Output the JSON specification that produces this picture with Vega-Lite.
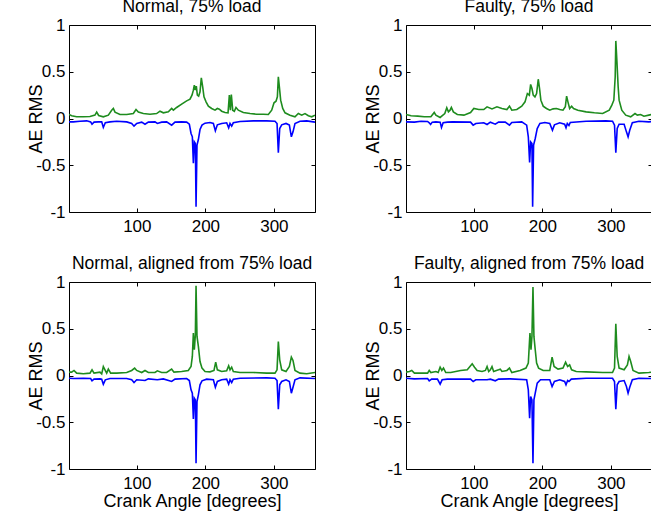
{
"$schema":"https://vega.github.io/schema/vega-lite/v6.json",
"background":"white",
"padding":{"left":27,"top":-3,"right":0,"bottom":5},
"datasets":{
"TLg":[{"a":1,"v":0.043},{"a":4.9,"v":0.029},{"a":12.2,"v":0.018},{"a":21.9,"v":0.018},{"a":31.6,"v":0.021},{"a":38.9,"v":0.036},{"a":41.4,"v":0.068},{"a":44.3,"v":0.032},{"a":51.1,"v":0.018},{"a":58.4,"v":0.036},{"a":63.3,"v":0.089},{"a":65.7,"v":0.107},{"a":68.1,"v":0.068},{"a":75.4,"v":0.043},{"a":85.2,"v":0.043},{"a":94.9,"v":0.053},{"a":98.8,"v":0.096},{"a":102.2,"v":0.068},{"a":109.5,"v":0.053},{"a":119.2,"v":0.046},{"a":128.9,"v":0.053},{"a":133.8,"v":0.078},{"a":138.7,"v":0.061},{"a":146,"v":0.071},{"a":150.8,"v":0.107},{"a":153.3,"v":0.089},{"a":158.1,"v":0.118},{"a":165.4,"v":0.153},{"a":172.7,"v":0.189},{"a":177.6,"v":0.207},{"a":180.5,"v":0.25},{"a":182.5,"v":0.303},{"a":183.9,"v":0.357},{"a":185.4,"v":0.303},{"a":186.8,"v":0.346},{"a":188.3,"v":0.25},{"a":190.2,"v":0.239},{"a":192.2,"v":0.285},{"a":194.1,"v":0.435},{"a":196.1,"v":0.339},{"a":198,"v":0.232},{"a":201,"v":0.178},{"a":204.4,"v":0.132},{"a":209.2,"v":0.107},{"a":214.1,"v":0.089},{"a":217.5,"v":0.107},{"a":220.4,"v":0.1},{"a":223.8,"v":0.078},{"a":228.7,"v":0.064},{"a":233.1,"v":0.061},{"a":235,"v":0.25},{"a":236.5,"v":0.089},{"a":237.9,"v":0.257},{"a":239.9,"v":0.089},{"a":242.3,"v":0.078},{"a":244.7,"v":0.118},{"a":248.1,"v":0.089},{"a":255.4,"v":0.064},{"a":265.2,"v":0.053},{"a":274.9,"v":0.046},{"a":284.6,"v":0.046},{"a":291.9,"v":0.043},{"a":296.8,"v":0.089},{"a":300.2,"v":0.168},{"a":303.1,"v":0.185},{"a":305.1,"v":0.232},{"a":306.5,"v":0.446},{"a":308,"v":0.339},{"a":309.9,"v":0.196},{"a":312.9,"v":0.107},{"a":316.3,"v":0.061},{"a":323.5,"v":0.036},{"a":330.8,"v":0.018},{"a":335.7,"v":0.053},{"a":340.6,"v":0.036},{"a":345.4,"v":0.053},{"a":350.3,"v":0.029},{"a":355.2,"v":0.018},{"a":360,"v":0.036}],
"TLb":[{"a":1,"v":-0.036},{"a":7.3,"v":-0.036},{"a":17.1,"v":-0.029},{"a":26.8,"v":-0.025},{"a":32.6,"v":-0.036},{"a":34.6,"v":-0.061},{"a":37.5,"v":-0.039},{"a":43.8,"v":-0.036},{"a":48.7,"v":-0.036},{"a":51.1,"v":-0.096},{"a":54,"v":-0.046},{"a":60.8,"v":-0.036},{"a":70.6,"v":-0.029},{"a":85.2,"v":-0.036},{"a":92.5,"v":-0.053},{"a":95.9,"v":-0.082},{"a":99.8,"v":-0.053},{"a":107.1,"v":-0.039},{"a":111.9,"v":-0.061},{"a":116.8,"v":-0.039},{"a":126.5,"v":-0.036},{"a":129.9,"v":-0.053},{"a":136.2,"v":-0.039},{"a":143.5,"v":-0.036},{"a":150.8,"v":-0.071},{"a":155.7,"v":-0.039},{"a":165.4,"v":-0.036},{"a":172.7,"v":-0.039},{"a":176.6,"v":-0.061},{"a":179.1,"v":-0.16},{"a":181,"v":-0.196},{"a":182.5,"v":-0.477},{"a":183.9,"v":-0.25},{"a":185.4,"v":-0.267},{"a":186.4,"v":-0.943},{"a":187.8,"v":-0.285},{"a":189.8,"v":-0.225},{"a":192.2,"v":-0.118},{"a":195.1,"v":-0.071},{"a":199.5,"v":-0.05},{"a":206.8,"v":-0.043},{"a":211.7,"v":-0.053},{"a":214.6,"v":-0.132},{"a":217.5,"v":-0.068},{"a":223.8,"v":-0.053},{"a":231.1,"v":-0.046},{"a":234,"v":-0.1},{"a":236,"v":-0.053},{"a":238.4,"v":-0.082},{"a":240.8,"v":-0.046},{"a":250.6,"v":-0.032},{"a":270,"v":-0.025},{"a":289.5,"v":-0.025},{"a":301.6,"v":-0.029},{"a":304.6,"v":-0.053},{"a":306.5,"v":-0.367},{"a":308.5,"v":-0.107},{"a":311.4,"v":-0.068},{"a":317.7,"v":-0.053},{"a":322.6,"v":-0.071},{"a":325.5,"v":-0.196},{"a":327.9,"v":-0.143},{"a":330.8,"v":-0.053},{"a":338.1,"v":-0.029},{"a":347.9,"v":-0.025},{"a":360,"v":-0.039}],
"TRg":[{"a":1,"v":0.043},{"a":8.4,"v":0.029},{"a":18.1,"v":0.025},{"a":27.7,"v":0.018},{"a":37.3,"v":0.018},{"a":42.2,"v":0.064},{"a":44.6,"v":0.036},{"a":50.8,"v":0.011},{"a":57.6,"v":0.053},{"a":60.5,"v":0.114},{"a":62.9,"v":0.071},{"a":65.3,"v":0.089},{"a":67.2,"v":0.118},{"a":70.1,"v":0.071},{"a":75.9,"v":0.043},{"a":85.5,"v":0.036},{"a":95.2,"v":0.064},{"a":100,"v":0.107},{"a":107.2,"v":0.096},{"a":114.5,"v":0.096},{"a":119.3,"v":0.125},{"a":126.5,"v":0.103},{"a":133.7,"v":0.125},{"a":141,"v":0.107},{"a":148.2,"v":0.096},{"a":152,"v":0.132},{"a":155.4,"v":0.089},{"a":162.7,"v":0.096},{"a":169.9,"v":0.132},{"a":174.7,"v":0.178},{"a":178.1,"v":0.267},{"a":181,"v":0.25},{"a":182.9,"v":0.364},{"a":184.8,"v":0.321},{"a":186.7,"v":0.25},{"a":189.2,"v":0.232},{"a":191.6,"v":0.267},{"a":194,"v":0.42},{"a":195.9,"v":0.321},{"a":197.8,"v":0.196},{"a":201.2,"v":0.132},{"a":206,"v":0.107},{"a":210.8,"v":0.089},{"a":215.7,"v":0.103},{"a":220.5,"v":0.107},{"a":225.3,"v":0.096},{"a":230.1,"v":0.089},{"a":233.5,"v":0.125},{"a":235.4,"v":0.239},{"a":237.3,"v":0.178},{"a":239.8,"v":0.107},{"a":242.7,"v":0.132},{"a":245.5,"v":0.107},{"a":251.8,"v":0.089},{"a":263.9,"v":0.071},{"a":275.9,"v":0.061},{"a":288,"v":0.053},{"a":297.6,"v":0.089},{"a":301.4,"v":0.143},{"a":304.3,"v":0.196},{"a":306.3,"v":0.446},{"a":307.2,"v":0.83},{"a":308.7,"v":0.624},{"a":310.6,"v":0.339},{"a":312,"v":0.196},{"a":315.9,"v":0.089},{"a":321.7,"v":0.036},{"a":328.9,"v":0.018},{"a":335.2,"v":0.053},{"a":338.6,"v":0.036},{"a":343.4,"v":0.043},{"a":348.2,"v":0.025},{"a":355.4,"v":0.036},{"a":360,"v":0.043}],
"TRb":[{"a":1,"v":-0.036},{"a":13.3,"v":-0.039},{"a":22.9,"v":-0.029},{"a":32.5,"v":-0.032},{"a":34.9,"v":-0.046},{"a":36.9,"v":-0.064},{"a":39.3,"v":-0.039},{"a":44.6,"v":-0.036},{"a":50.8,"v":-0.039},{"a":52.8,"v":-0.096},{"a":55.2,"v":-0.046},{"a":61.4,"v":-0.039},{"a":68.7,"v":-0.036},{"a":95.2,"v":-0.039},{"a":99,"v":-0.071},{"a":102.9,"v":-0.053},{"a":114.5,"v":-0.046},{"a":119.3,"v":-0.064},{"a":124.1,"v":-0.039},{"a":131.3,"v":-0.061},{"a":136.1,"v":-0.039},{"a":145.8,"v":-0.039},{"a":152,"v":-0.071},{"a":155.4,"v":-0.043},{"a":169.9,"v":-0.036},{"a":177.1,"v":-0.071},{"a":179.5,"v":-0.196},{"a":181.4,"v":-0.471},{"a":182.9,"v":-0.25},{"a":184.8,"v":-0.267},{"a":185.8,"v":-0.943},{"a":187.2,"v":-0.285},{"a":189.6,"v":-0.214},{"a":192.5,"v":-0.107},{"a":196.4,"v":-0.053},{"a":203.6,"v":-0.043},{"a":210.8,"v":-0.053},{"a":214.7,"v":-0.125},{"a":217.6,"v":-0.068},{"a":225.3,"v":-0.046},{"a":232.5,"v":-0.061},{"a":234.5,"v":-0.1},{"a":236.4,"v":-0.053},{"a":238.8,"v":-0.075},{"a":240.7,"v":-0.043},{"a":263.9,"v":-0.029},{"a":292.8,"v":-0.025},{"a":302.4,"v":-0.029},{"a":305.3,"v":-0.071},{"a":307.2,"v":-0.367},{"a":309.2,"v":-0.107},{"a":312,"v":-0.061},{"a":319.3,"v":-0.061},{"a":322.7,"v":-0.143},{"a":325.1,"v":-0.196},{"a":327.5,"v":-0.125},{"a":331.3,"v":-0.046},{"a":341,"v":-0.029},{"a":355.4,"v":-0.036},{"a":360,"v":-0.032}],
"BLg":[{"a":1,"v":0.036},{"a":4.9,"v":0.036},{"a":8.3,"v":0.054},{"a":12.2,"v":0.025},{"a":21.9,"v":0.018},{"a":31.6,"v":0.025},{"a":34.6,"v":0.061},{"a":37.5,"v":0.025},{"a":46.2,"v":0.036},{"a":48.7,"v":0.018},{"a":51.1,"v":0.096},{"a":53.5,"v":0.061},{"a":56,"v":0.025},{"a":58.4,"v":0.068},{"a":61.8,"v":0.025},{"a":70.6,"v":0.025},{"a":85.2,"v":0.032},{"a":92.5,"v":0.054},{"a":96.8,"v":0.079},{"a":99.8,"v":0.054},{"a":107.1,"v":0.032},{"a":111.9,"v":0.054},{"a":116.8,"v":0.032},{"a":126.5,"v":0.032},{"a":129.9,"v":0.05},{"a":136.2,"v":0.032},{"a":143.5,"v":0.032},{"a":150.8,"v":0.068},{"a":154.2,"v":0.036},{"a":165.4,"v":0.043},{"a":175.1,"v":0.054},{"a":179.1,"v":0.096},{"a":181,"v":0.204},{"a":182.5,"v":0.454},{"a":183.9,"v":0.275},{"a":185.4,"v":0.436},{"a":186.4,"v":0.961},{"a":187.8,"v":0.418},{"a":189.8,"v":0.311},{"a":192.2,"v":0.15},{"a":195.1,"v":0.079},{"a":199.5,"v":0.043},{"a":206.8,"v":0.039},{"a":212.6,"v":0.054},{"a":215.1,"v":0.143},{"a":217.5,"v":0.061},{"a":223.8,"v":0.043},{"a":231.1,"v":0.05},{"a":234,"v":0.104},{"a":236,"v":0.061},{"a":238.4,"v":0.089},{"a":240.8,"v":0.043},{"a":250.6,"v":0.032},{"a":270,"v":0.032},{"a":289.5,"v":0.025},{"a":301.6,"v":0.025},{"a":304.6,"v":0.061},{"a":306.5,"v":0.364},{"a":308.5,"v":0.168},{"a":311.4,"v":0.061},{"a":317.7,"v":0.043},{"a":322.6,"v":0.096},{"a":325.5,"v":0.196},{"a":327.9,"v":0.161},{"a":330.8,"v":0.054},{"a":338.1,"v":0.025},{"a":347.9,"v":0.018},{"a":360,"v":0.032}],
"BLb":[{"a":1,"v":-0.029},{"a":7.3,"v":-0.032},{"a":21.9,"v":-0.029},{"a":32.6,"v":-0.032},{"a":34.6,"v":-0.057},{"a":37.5,"v":-0.039},{"a":46.2,"v":-0.036},{"a":48.7,"v":-0.039},{"a":51.1,"v":-0.093},{"a":54,"v":-0.046},{"a":60.8,"v":-0.032},{"a":85.2,"v":-0.032},{"a":92.5,"v":-0.046},{"a":95.9,"v":-0.075},{"a":99.8,"v":-0.046},{"a":111.9,"v":-0.054},{"a":116.8,"v":-0.036},{"a":129.9,"v":-0.046},{"a":138.7,"v":-0.036},{"a":150.8,"v":-0.064},{"a":155.7,"v":-0.039},{"a":172.7,"v":-0.032},{"a":176.6,"v":-0.054},{"a":179.1,"v":-0.154},{"a":181,"v":-0.189},{"a":182.5,"v":-0.464},{"a":183.9,"v":-0.243},{"a":185.4,"v":-0.261},{"a":186.4,"v":-0.939},{"a":187.8,"v":-0.279},{"a":189.8,"v":-0.207},{"a":192.2,"v":-0.1},{"a":195.1,"v":-0.057},{"a":201.9,"v":-0.039},{"a":211.7,"v":-0.046},{"a":214.6,"v":-0.125},{"a":217.5,"v":-0.064},{"a":223.8,"v":-0.046},{"a":231.1,"v":-0.039},{"a":234,"v":-0.093},{"a":236,"v":-0.046},{"a":238.4,"v":-0.075},{"a":240.8,"v":-0.039},{"a":250.6,"v":-0.029},{"a":289.5,"v":-0.025},{"a":301.6,"v":-0.029},{"a":304.6,"v":-0.054},{"a":306.5,"v":-0.361},{"a":308.5,"v":-0.1},{"a":311.4,"v":-0.064},{"a":317.7,"v":-0.046},{"a":322.6,"v":-0.064},{"a":325.5,"v":-0.189},{"a":327.9,"v":-0.125},{"a":330.8,"v":-0.046},{"a":338.1,"v":-0.025},{"a":360,"v":-0.032}],
"BRg":[{"a":1,"v":0.036},{"a":6,"v":0.043},{"a":9.4,"v":0.054},{"a":13.3,"v":0.025},{"a":22.9,"v":0.025},{"a":32.5,"v":0.025},{"a":34.9,"v":0.054},{"a":37.3,"v":0.032},{"a":44.6,"v":0.043},{"a":48,"v":0.032},{"a":50.8,"v":0.089},{"a":53.3,"v":0.054},{"a":55.7,"v":0.079},{"a":59,"v":0.032},{"a":66.3,"v":0.032},{"a":80.7,"v":0.054},{"a":90.4,"v":0.061},{"a":97.6,"v":0.125},{"a":101,"v":0.089},{"a":104.8,"v":0.054},{"a":112,"v":0.043},{"a":116.9,"v":0.054},{"a":119.3,"v":0.096},{"a":121.7,"v":0.043},{"a":124.1,"v":0.061},{"a":126.5,"v":0.096},{"a":128.9,"v":0.043},{"a":136.1,"v":0.061},{"a":138.6,"v":0.068},{"a":141,"v":0.043},{"a":148.2,"v":0.054},{"a":152,"v":0.079},{"a":155.4,"v":0.032},{"a":167.5,"v":0.054},{"a":176.1,"v":0.079},{"a":179.5,"v":0.132},{"a":181.9,"v":0.454},{"a":183.4,"v":0.275},{"a":184.8,"v":0.418},{"a":186.3,"v":0.946},{"a":187.7,"v":0.418},{"a":189.6,"v":0.275},{"a":191.6,"v":0.132},{"a":194.5,"v":0.079},{"a":201.2,"v":0.054},{"a":210.8,"v":0.054},{"a":214.2,"v":0.196},{"a":217.1,"v":0.096},{"a":222.9,"v":0.068},{"a":230.1,"v":0.079},{"a":233.9,"v":0.143},{"a":236.9,"v":0.096},{"a":239.8,"v":0.114},{"a":242.7,"v":0.061},{"a":249.4,"v":0.043},{"a":263.9,"v":0.039},{"a":288,"v":0.032},{"a":302.4,"v":0.032},{"a":305.3,"v":0.079},{"a":307.2,"v":0.554},{"a":309.2,"v":0.204},{"a":312,"v":0.079},{"a":319.3,"v":0.061},{"a":324.1,"v":0.114},{"a":326.5,"v":0.204},{"a":328.9,"v":0.15},{"a":332.3,"v":0.054},{"a":341,"v":0.025},{"a":355.4,"v":0.032},{"a":360,"v":0.036}],
"BRb":[{"a":1,"v":-0.029},{"a":13.3,"v":-0.036},{"a":32.5,"v":-0.032},{"a":34.9,"v":-0.057},{"a":38.3,"v":-0.039},{"a":46.9,"v":-0.039},{"a":50.8,"v":-0.093},{"a":53.7,"v":-0.046},{"a":61.4,"v":-0.039},{"a":95.2,"v":-0.039},{"a":99,"v":-0.064},{"a":102.9,"v":-0.046},{"a":119.3,"v":-0.046},{"a":124.1,"v":-0.039},{"a":131.3,"v":-0.057},{"a":136.1,"v":-0.039},{"a":153,"v":-0.036},{"a":177.1,"v":-0.046},{"a":179.5,"v":-0.154},{"a":181.4,"v":-0.457},{"a":182.9,"v":-0.225},{"a":184.8,"v":-0.261},{"a":186.3,"v":-0.939},{"a":187.7,"v":-0.261},{"a":189.6,"v":-0.189},{"a":192.5,"v":-0.082},{"a":197.3,"v":-0.046},{"a":210.8,"v":-0.046},{"a":214.2,"v":-0.118},{"a":217.6,"v":-0.064},{"a":225.3,"v":-0.046},{"a":232.5,"v":-0.064},{"a":234.5,"v":-0.1},{"a":236.9,"v":-0.054},{"a":238.8,"v":-0.064},{"a":242.2,"v":-0.039},{"a":263.9,"v":-0.029},{"a":302.4,"v":-0.029},{"a":305.3,"v":-0.064},{"a":307.2,"v":-0.361},{"a":309.2,"v":-0.1},{"a":312,"v":-0.064},{"a":319.3,"v":-0.054},{"a":322.7,"v":-0.118},{"a":325.1,"v":-0.189},{"a":327.5,"v":-0.125},{"a":331.3,"v":-0.046},{"a":341,"v":-0.029},{"a":355.4,"v":-0.032},{"a":360,"v":-0.032}]
},
"columns":2,
"spacing":{"row":70,"column":91},
"bounds":"flush",
"concat":[
{"width":246,"height":187,"title":{"text":"Normal, 75% load"},
 "layer":[
  {"data":{"name":"TLg"},"mark":{"type":"line","color":"#1e8c1e","strokeWidth":1.6,"clip":true},
   "encoding":{"x":{"field":"a","type":"quantitative","scale":{"domain":[1,360],"nice":false,"zero":false},"axis":{"orient":"bottom","values":[100,200,300],"title":null}},
   "y":{"field":"v","type":"quantitative","scale":{"domain":[-1,1],"nice":false},"axis":{"orient":"left","values":[-1,-0.5,0,0.5,1],"labelExpr":"datum.value == 0 ? '0' : datum.value == 1 ? '1' : datum.value == -1 ? '-1' : datum.value == 0.5 ? '0.5' : '-0.5'","title":"AE RMS","titleX":-28,"titleY":93.5,"titleAngle":270,"titleAlign":"center","titleBaseline":"alphabetic"}}}},
  {"data":{"name":"TLb"},"mark":{"type":"line","color":"#0000ff","strokeWidth":1.6,"clip":true},
   "encoding":{"x":{"field":"a","type":"quantitative","axis":{"orient":"top","values":[100,200,300],"labels":false,"title":null}},
   "y":{"field":"v","type":"quantitative","axis":{"orient":"right","values":[-1,-0.5,0,0.5,1],"labels":false,"title":null}}}}
 ],
 "resolve":{"axis":{"x":"independent","y":"independent"}}},
{"width":246,"height":187,"title":{"text":"Faulty, 75% load"},
 "layer":[
  {"data":{"name":"TRg"},"mark":{"type":"line","color":"#1e8c1e","strokeWidth":1.6,"clip":true},
   "encoding":{"x":{"field":"a","type":"quantitative","scale":{"domain":[1,360],"nice":false,"zero":false},"axis":{"orient":"bottom","values":[100,200,300],"title":null}},
   "y":{"field":"v","type":"quantitative","scale":{"domain":[-1,1],"nice":false},"axis":{"orient":"left","values":[-1,-0.5,0,0.5,1],"labelExpr":"datum.value == 0 ? '0' : datum.value == 1 ? '1' : datum.value == -1 ? '-1' : datum.value == 0.5 ? '0.5' : '-0.5'","title":"AE RMS","titleX":-28,"titleY":93.5,"titleAngle":270,"titleAlign":"center","titleBaseline":"alphabetic"}}}},
  {"data":{"name":"TRb"},"mark":{"type":"line","color":"#0000ff","strokeWidth":1.6,"clip":true},
   "encoding":{"x":{"field":"a","type":"quantitative","axis":{"orient":"top","values":[100,200,300],"labels":false,"title":null}},
   "y":{"field":"v","type":"quantitative","axis":{"orient":"right","values":[-1,-0.5,0,0.5,1],"labels":false,"title":null}}}}
 ],
 "resolve":{"axis":{"x":"independent","y":"independent"}}},
{"width":246,"height":187,"title":{"text":"Normal, aligned from 75% load"},
 "layer":[
  {"data":{"name":"BLg"},"mark":{"type":"line","color":"#1e8c1e","strokeWidth":1.6,"clip":true},
   "encoding":{"x":{"field":"a","type":"quantitative","scale":{"domain":[1,360],"nice":false,"zero":false},"axis":{"orient":"bottom","values":[100,200,300],"title":"Crank Angle [degrees]","titleY":37.7,"titleBaseline":"alphabetic"}},
   "y":{"field":"v","type":"quantitative","scale":{"domain":[-1,1],"nice":false},"axis":{"orient":"left","values":[-1,-0.5,0,0.5,1],"labelExpr":"datum.value == 0 ? '0' : datum.value == 1 ? '1' : datum.value == -1 ? '-1' : datum.value == 0.5 ? '0.5' : '-0.5'","title":"AE RMS","titleX":-28,"titleY":93.5,"titleAngle":270,"titleAlign":"center","titleBaseline":"alphabetic"}}}},
  {"data":{"name":"BLb"},"mark":{"type":"line","color":"#0000ff","strokeWidth":1.6,"clip":true},
   "encoding":{"x":{"field":"a","type":"quantitative","axis":{"orient":"top","values":[100,200,300],"labels":false,"title":null}},
   "y":{"field":"v","type":"quantitative","axis":{"orient":"right","values":[-1,-0.5,0,0.5,1],"labels":false,"title":null}}}}
 ],
 "resolve":{"axis":{"x":"independent","y":"independent"}}},
{"width":246,"height":187,"title":{"text":"Faulty, aligned from 75% load"},
 "layer":[
  {"data":{"name":"BRg"},"mark":{"type":"line","color":"#1e8c1e","strokeWidth":1.6,"clip":true},
   "encoding":{"x":{"field":"a","type":"quantitative","scale":{"domain":[1,360],"nice":false,"zero":false},"axis":{"orient":"bottom","values":[100,200,300],"title":"Crank Angle [degrees]","titleY":37.7,"titleBaseline":"alphabetic"}},
   "y":{"field":"v","type":"quantitative","scale":{"domain":[-1,1],"nice":false},"axis":{"orient":"left","values":[-1,-0.5,0,0.5,1],"labelExpr":"datum.value == 0 ? '0' : datum.value == 1 ? '1' : datum.value == -1 ? '-1' : datum.value == 0.5 ? '0.5' : '-0.5'","title":"AE RMS","titleX":-28,"titleY":93.5,"titleAngle":270,"titleAlign":"center","titleBaseline":"alphabetic"}}}},
  {"data":{"name":"BRb"},"mark":{"type":"line","color":"#0000ff","strokeWidth":1.6,"clip":true},
   "encoding":{"x":{"field":"a","type":"quantitative","axis":{"orient":"top","values":[100,200,300],"labels":false,"title":null}},
   "y":{"field":"v","type":"quantitative","axis":{"orient":"right","values":[-1,-0.5,0,0.5,1],"labels":false,"title":null}}}}
 ],
 "resolve":{"axis":{"x":"independent","y":"independent"}}}
],
"config":{
 "view":{"stroke":null},
 "axis":{"grid":false,"domainColor":"#000","tickColor":"#000","labelColor":"#000","titleColor":"#000","labelFont":"Liberation Sans","titleFont":"Liberation Sans","labelFontSize":17,"titleFontSize":18,"titleFontWeight":"normal","tickSize":-4,"domainWidth":1,"tickWidth":1,"labelFlush":false,"labelOverlap":false},
 "axisX":{"labelPadding":10.3},
 "axisY":{"labelPadding":8},
 "title":{"font":"Liberation Sans","fontSize":17.5,"fontWeight":"normal","color":"#000","baseline":"alphabetic","offset":1,"anchor":"middle"}
}
}
